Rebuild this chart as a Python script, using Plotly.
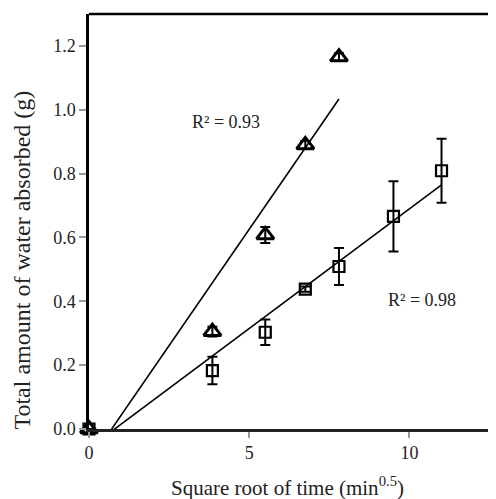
import numpy as np
import plotly.graph_objects as go

# Data
tri_x = [0, 3.85, 5.5, 6.75, 7.8]
tri_y = [0.0, 0.305, 0.608, 0.89, 1.165]
tri_err = [0.0, 0.015, 0.025, 0.012, 0.012]

sq_x = [0, 3.85, 5.5, 6.75, 7.8, 9.5, 11.0]
sq_y = [0.0, 0.183, 0.303, 0.438, 0.509, 0.666, 0.809]
sq_err = [0.0, 0.043, 0.04, 0.008, 0.058, 0.11, 0.1]

x_ticks = [0, 5, 10]
y_ticks = [0.0, 0.2, 0.4, 0.6, 0.8, 1.0, 1.2]

r2_labels = ["R² = 0.93", "R² = 0.98"]
x_title = "Square root of time (min<sup>0.5</sup>)"
y_title = "Total amount of water absorbed (g)"

FONT = "Liberation Serif"

fig = go.Figure()

# Regression lines
for xs, ys in [(tri_x, tri_y), (sq_x, sq_y)]:
    m, b = np.polyfit(xs, ys, 1)
    lx = np.array([0.0, xs[-1]])
    fig.add_trace(go.Scatter(x=lx, y=m * lx + b, mode="lines",
                             line=dict(color="black", width=1.6),
                             showlegend=False, hoverinfo="skip"))

fig.add_trace(go.Scatter(
    x=sq_x, y=sq_y, mode="markers",
    marker=dict(symbol="square-open", size=11, color="black", line=dict(width=2.2, color="black")),
    error_y=dict(type="data", array=sq_err, color="black", thickness=2, width=5),
    cliponaxis=False, showlegend=False))

fig.add_trace(go.Scatter(
    x=tri_x, y=tri_y, mode="markers",
    marker=dict(symbol="triangle-up-open", size=15, color="black", line=dict(width=3, color="black")),
    error_y=dict(type="data", array=tri_err, color="black", thickness=2, width=5),
    cliponaxis=False, showlegend=False))

fig.add_annotation(x=4.28, y=0.962, text=r2_labels[0], showarrow=False,
                   font=dict(family=FONT, size=18, color="#222"))
fig.add_annotation(x=10.4, y=0.405, text=r2_labels[1], showarrow=False,
                   font=dict(family=FONT, size=18, color="#222"))

# axis titles placed as in the reference
fig.add_annotation(xref="paper", yref="paper", x=0.488, y=-0.104, text=x_title,
                   showarrow=False, xanchor="center", yanchor="top", borderpad=0,
                   font=dict(family=FONT, size=21, color="#222"))
fig.add_annotation(xref="paper", yref="paper", x=-0.167, y=0.406, text=y_title,
                   showarrow=False, textangle=-90, xanchor="center", yanchor="middle",
                   font=dict(family=FONT, size=24, color="#222"))

# top border line
fig.add_shape(type="line", xref="paper", yref="paper", x0=0, x1=1, y0=1, y1=1,
              line=dict(color="black", width=2.5))

fig.update_layout(
    width=488, height=491,
    margin=dict(l=81, r=0, t=6, b=70, autoexpand=False),
    paper_bgcolor="white", plot_bgcolor="white",
    font=dict(family=FONT, size=18, color="#222"),
    xaxis=dict(range=[0, 12.7], tickvals=x_ticks, ticks="outside", ticklen=6,
               tickcolor="#999", tickwidth=1.5, showgrid=False, zeroline=False,
               showline=True, linecolor="#222", linewidth=2.5,
               tickfont=dict(family=FONT, size=18), automargin=False),
    yaxis=dict(range=[0, 1.3], tickvals=y_ticks, tickformat=".1f", ticks="outside",
               ticklen=7, tickcolor="#999", tickwidth=1.5, showgrid=False, zeroline=False,
               showline=True, linecolor="black", linewidth=2.5,
               tickfont=dict(family=FONT, size=18), automargin=False),
)

fig.write_html("out.html")
